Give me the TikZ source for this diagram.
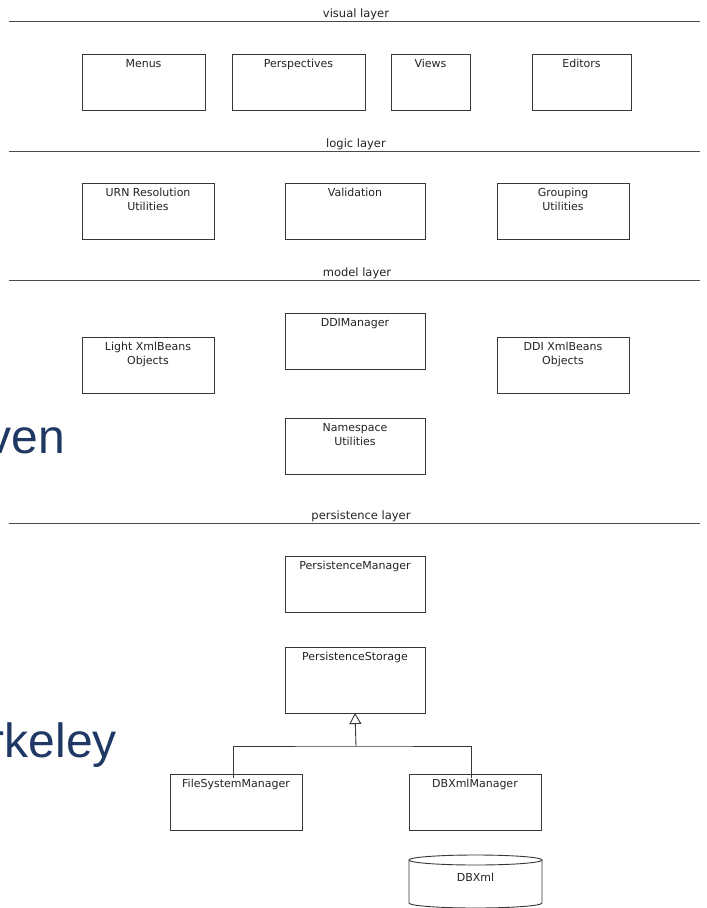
\documentclass[tikz,border=0pt]{standalone}
\usepackage{fontspec}
\setmainfont{DejaVu Sans}
\newfontfamily\arialfont{Liberation Sans}
\usetikzlibrary{arrows.meta}
\definecolor{navy}{RGB}{31,56,100}
\definecolor{ln}{RGB}{55,55,55}
\definecolor{lyr}{RGB}{75,75,75}
\definecolor{tx}{RGB}{35,35,35}
\newcommand\umlbox[6]{%
  \node[box, minimum width={(#4-#2)*1pt}, minimum height={(#5-#3)*1pt}] (#1) at ({(#2+#4)/2},{(#3+#5)/2}) {};
  \node[boxtext] (#1-t) at (#1.north) {#6};}
\begin{document}
\begin{tikzpicture}[x=1pt,y=-1pt,
  box/.style={draw=ln, line width=0.9pt, rectangle, inner sep=0pt, outer sep=0pt},
  boxtext/.style={font=\fontsize{11}{14}\selectfont, text=tx, align=center, anchor=north, inner sep=0pt, yshift=-5pt},
  layerline/.style={draw=lyr, line width=1pt},
  layertext/.style={font=\fontsize{11.5}{12}\selectfont, text=tx, anchor=base, inner sep=0pt},
  conn/.style={draw=ln, line width=0.9pt},
  bigtext/.style={font=\arialfont\fontsize{48}{48}\selectfont, text=navy, anchor=base east, inner sep=0pt}]
\useasboundingbox (0,0) rectangle (707,908);
% big background words (cut off at the left edge, as in the reference)
\node[bigtext] (ven) at (65,453) {ven};
\node[bigtext] (rkeley) at (117,757) {rkeley};
% layers
\node[layertext] (lv) at (356,17) {visual layer};
\draw[layerline] (9,21) -- (700,21);
\node[layertext] (ll) at (356,147) {logic layer};
\draw[layerline] (9,151) -- (700,151);
\node[layertext] (lm) at (357,276) {model layer};
\draw[layerline] (9,280) -- (700,280);
\node[layertext] (lp) at (361,519) {persistence layer};
\draw[layerline] (9,523) -- (700,523);
% visual
\umlbox{menus}{82}{54}{205}{110}{Menus}
\umlbox{persp}{232}{54}{365}{110}{Perspectives}
\umlbox{views}{391}{54}{470}{110}{Views}
\umlbox{editors}{532}{54}{631}{110}{Editors}
% logic
\umlbox{urn}{82}{183}{214}{239}{URN Resolution\\Utilities}
\umlbox{valid}{285}{183}{425}{239}{Validation}
\umlbox{group}{497}{183}{629}{239}{Grouping\\Utilities}
% model
\umlbox{ddim}{285}{313}{425}{369}{DDIManager}
\umlbox{light}{82}{337}{214}{393}{Light XmlBeans\\Objects}
\umlbox{ddixb}{497}{337}{629}{393}{DDI XmlBeans\\Objects}
\umlbox{ns}{285}{418}{425}{474}{Namespace\\Utilities}
% persistence
\umlbox{pm}{285}{556}{425}{612}{PersistenceManager}
\umlbox{ps}{285}{647}{425}{713}{PersistenceStorage}
\umlbox{fsm}{170}{774}{302}{830}{FileSystemManager}
\umlbox{dbxm}{409}{774}{541}{830}{DBXmlManager}
% inheritance
\coordinate (j) at (356,746);
\coordinate (fsmin) at (233,778);
\coordinate (dbin) at (471,778);
\draw[conn] (fsmin) |- (j) -| (dbin);
\draw[conn, -{Triangle[open, width=12pt, length=11pt, line width=0.9pt]}] (j) -- (ps.south);
% DBXml cylinder
\draw[conn] (475.5,860) ellipse [x radius=66.5, y radius=5];
\draw[conn] (409,860) -- (409,903) arc [start angle=180, end angle=0, x radius=66.5, y radius=5] -- (542,860);
\node[font=\fontsize{11}{12}\selectfont, text=tx] (dbxml) at (475.5,877) {DBXml};
\end{tikzpicture}
\end{document}
